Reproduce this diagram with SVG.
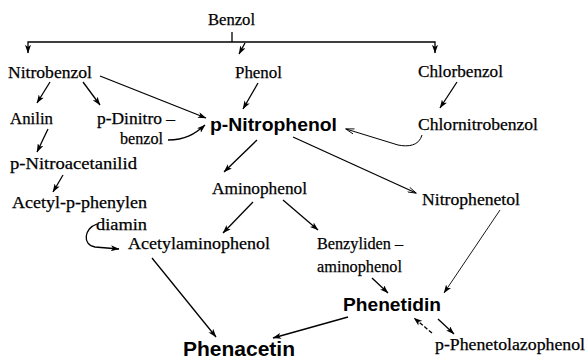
<svg xmlns="http://www.w3.org/2000/svg" width="588" height="361" viewBox="0 0 588 361">
<defs>
<marker id="a" viewBox="0 0 10 7" refX="9.5" refY="3.5" markerWidth="9" markerHeight="6" markerUnits="userSpaceOnUse" orient="auto"><path d="M0,0 L10,3.5 L0,7 L2.5,3.5 z" fill="#000"/></marker>
<marker id="o" viewBox="0 0 10 7" refX="9.5" refY="3.5" markerWidth="10" markerHeight="6" markerUnits="userSpaceOnUse" orient="auto"><path d="M0,0.5 L10,3.5 L0,6.5" fill="none" stroke="#000" stroke-width="1"/></marker>
</defs>
<style>
text{fill:#000}
.s{font-family:"Liberation Serif","Times New Roman",serif;font-size:17px;stroke:#000;stroke-width:0.25}
.b{font-family:"Liberation Sans",Arial,sans-serif;font-weight:bold;font-size:19px}
.c path{fill:none;stroke:#000;stroke-width:1.3}
.c .ar{marker-end:url(#a)}
.c .op{marker-end:url(#o)}
</style>
<g id="benzol"><text class="s" x="208" y="25" textLength="47" lengthAdjust="spacingAndGlyphs">Benzol</text></g>
<g id="nitrobenzol"><text class="s" x="8" y="78" textLength="84" lengthAdjust="spacingAndGlyphs">Nitrobenzol</text></g>
<g id="phenol"><text class="s" x="235" y="78" textLength="47" lengthAdjust="spacingAndGlyphs">Phenol</text></g>
<g id="chlorbenzol"><text class="s" x="418" y="77" textLength="85" lengthAdjust="spacingAndGlyphs">Chlorbenzol</text></g>
<g id="anilin"><text class="s" x="10" y="124" textLength="43" lengthAdjust="spacingAndGlyphs">Anilin</text></g>
<g id="dinitrobenzol"><text class="s" x="97" y="124" textLength="78" lengthAdjust="spacingAndGlyphs">p-Dinitro –</text><text class="s" x="120" y="144" textLength="43" lengthAdjust="spacingAndGlyphs">benzol</text></g>
<g id="pnitrophenol"><text class="b" x="210" y="131" textLength="127" lengthAdjust="spacingAndGlyphs">p-Nitrophenol</text></g>
<g id="chlornitrobenzol"><text class="s" x="418" y="130" textLength="120" lengthAdjust="spacingAndGlyphs">Chlornitrobenzol</text></g>
<g id="nitroacetanilid"><text class="s" x="10" y="169" textLength="127" lengthAdjust="spacingAndGlyphs">p-Nitroacetanilid</text></g>
<g id="aminophenol"><text class="s" x="212" y="194" textLength="95" lengthAdjust="spacingAndGlyphs">Aminophenol</text></g>
<g id="nitrophenetol"><text class="s" x="422" y="205" textLength="98" lengthAdjust="spacingAndGlyphs">Nitrophenetol</text></g>
<g id="acetylphenylendiamin"><text class="s" x="12" y="208" textLength="135" lengthAdjust="spacingAndGlyphs">Acetyl-p-phenylen</text><text class="s" x="96" y="230" textLength="51" lengthAdjust="spacingAndGlyphs">diamin</text></g>
<g id="acetylaminophenol"><text class="s" x="128" y="249" textLength="142" lengthAdjust="spacingAndGlyphs">Acetylaminophenol</text></g>
<g id="benzylidenaminophenol"><text class="s" x="317" y="249" textLength="86" lengthAdjust="spacingAndGlyphs">Benzyliden –</text><text class="s" x="317" y="272" textLength="85" lengthAdjust="spacingAndGlyphs">aminophenol</text></g>
<g id="phenetidin"><text class="b" x="343" y="311" textLength="98" lengthAdjust="spacingAndGlyphs">Phenetidin</text></g>
<g id="phenetolazophenol"><text class="s" x="435" y="350" textLength="150" lengthAdjust="spacingAndGlyphs">p-Phenetolazophenol</text></g>
<g id="phenacetin"><text class="b" x="183" y="356" style="font-size:20px" textLength="112" lengthAdjust="spacingAndGlyphs">Phenacetin</text></g>
<g id="connectors" class="c">
<path d="M232,32 V42"/>
<path class="ar" d="M232,42 H28 V53"/>
<path class="ar" d="M232,42 H435 V53"/>
<path class="ar" d="M245,43 L239,54"/>
<path class="ar" d="M50,82 L37,103"/>
<path class="ar" d="M83,82 L100,105"/>
<path class="ar" d="M100,76 L206,118"/>
<path class="ar" d="M168,140 C185,140 195,134 205,125"/>
<path class="ar" d="M258,83 L243,109"/>
<path class="ar" d="M457,82 L440,108"/>
<path class="op" style="stroke-width:1" d="M422,135 C419,146 408,147 398,145 L346,129"/>
<path class="op" d="M293,137 L416,193"/>
<path class="ar" d="M257,140 L224,172"/>
<path class="ar" d="M48,129 L37,152"/>
<path class="ar" d="M63,175 L53,192"/>
<path class="ar" d="M253,202 L223,233"/>
<path class="ar" d="M283,200 L318,230"/>
<path class="ar" d="M97,224 C84,228 82,245 95,247 L119,249"/>
<path class="ar" d="M152,258 L216,337"/>
<path class="ar" d="M372,278 L388,293"/>
<path class="ar" style="stroke-width:0.9" d="M500,210 L444,293"/>
<path class="ar" d="M348,317 L273,338"/>
<path class="ar" style="stroke-dasharray:4 2" d="M432,333 L414,318"/>
<path class="ar" d="M438,319 L454,334"/>
</g>
</svg>
